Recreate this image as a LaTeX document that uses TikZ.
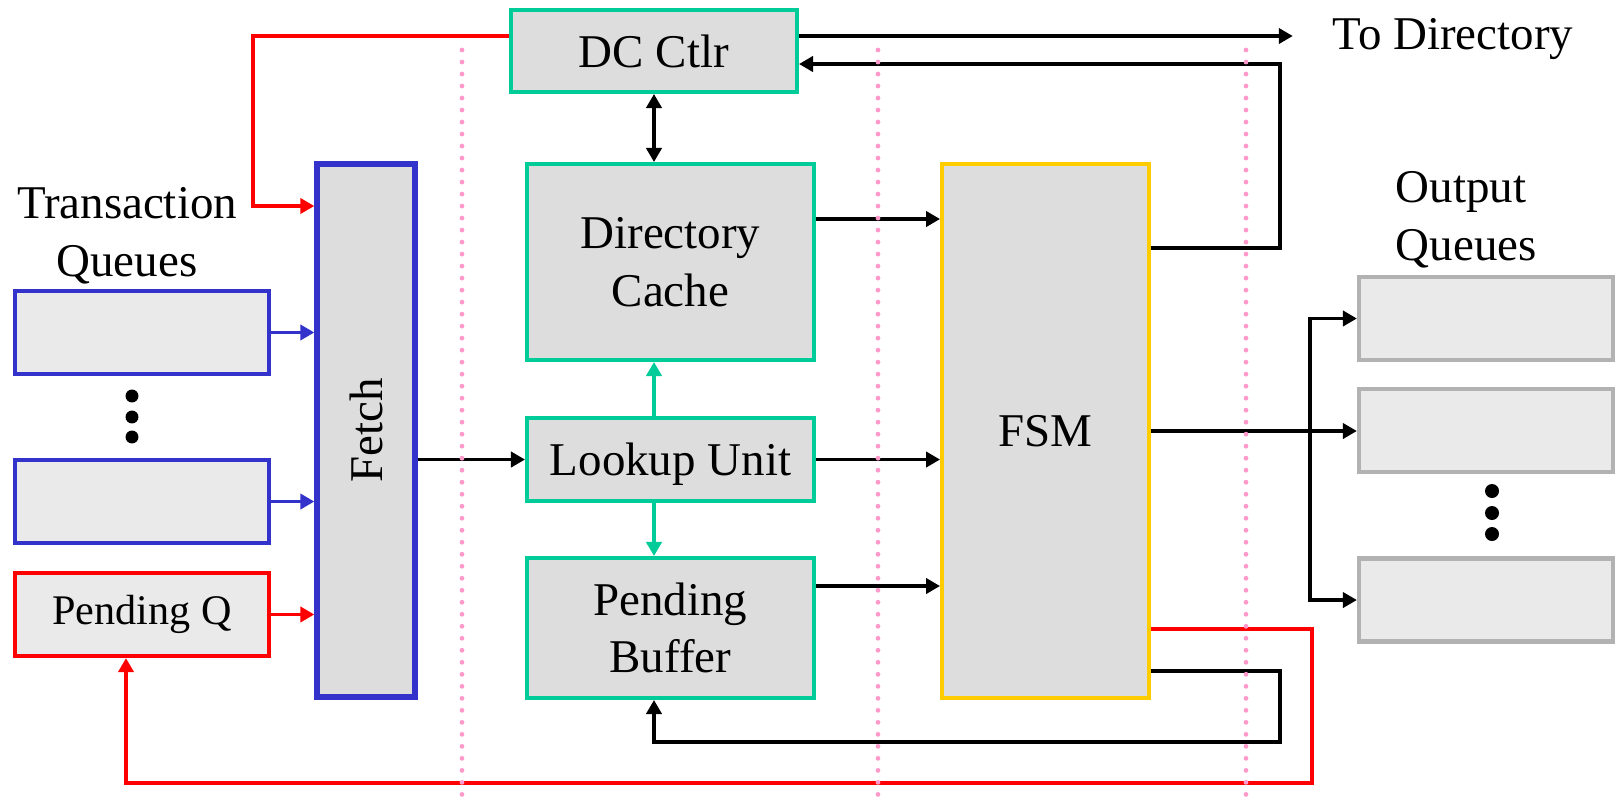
\documentclass[tikz,border=0pt]{standalone}
\usepackage{fontspec}
\setmainfont{Liberation Serif}
\usepackage{xcolor}
\usetikzlibrary{arrows.meta, positioning}
\definecolor{dcblue}{HTML}{3333CC}
\definecolor{dcteal}{HTML}{00CC99}
\definecolor{dcyellow}{HTML}{FFCC00}
\definecolor{dcred}{HTML}{FF0000}
\definecolor{dcgrey}{HTML}{B2B2B2}
\definecolor{boxfill}{HTML}{DDDDDD}
\definecolor{qfill}{HTML}{EAEAEA}
\definecolor{divpink}{HTML}{FF99CC}

\begin{document}
\begin{tikzpicture}[
    block/.style={rectangle, draw=dcteal, fill=boxfill, line width=1.4pt, align=center, minimum width=3.5875cm, inner sep=0pt, font=\fontsize{16.7}{20.45}\selectfont},
    queue/.style={rectangle, draw=dcblue, fill=qfill, line width=1.5pt, minimum width=3.175cm, minimum height=1.0375cm, inner sep=0pt},
    label/.style={inner sep=0pt, align=center, font=\fontsize{16.7}{20.45}\selectfont},
    arrow/.style={-{Triangle[length=5pt, width=5.4pt]}, line width=1.3pt, color=black},
    redarrow/.style={arrow, color=dcred},
    bluearrow/.style={arrow, color=dcblue},
    tealarrow/.style={arrow, color=dcteal},
    divider/.style={divpink, line width=1.7pt, line cap=round, dash pattern=on 0pt off 4.27pt}
]
\useasboundingbox (0,0) rectangle (20.2,-9.975);

\node[block, minimum height=1.025cm, minimum width=3.575cm] (dcctlr) at (8.175,-0.6375) {DC Ctlr};
\node[block, minimum height=2.45cm] (dircache) at (8.381,-3.275) {Directory\\Cache};
\node[block, minimum height=1.0375cm, text depth=0pt] (lookup) at (8.381,-5.744) {Lookup Unit};
\node[block, minimum height=1.75cm] (pendbuf) at (8.381,-7.85) {Pending\\Buffer};
\node[block, draw=dcyellow, minimum width=2.5875cm, minimum height=6.675cm] (fsm) at (13.069,-5.3875) {FSM};
\node[block, draw=dcblue, line width=1.9pt, minimum width=1.225cm, minimum height=6.6625cm] (fetch) at (4.575,-5.381) {\rotatebox{90}{Fetch}};

\node[queue] (txq1) at (1.775,-4.156) {};
\node[queue] (txq2) at (1.775,-6.269) {};
\node[queue, draw=dcred, font=\fontsize{15}{18}\selectfont] (pendq) at (1.775,-7.681) {Pending Q};

\node[queue, draw=dcgrey] (outq1) at (18.575,-3.981) {};
\node[queue, draw=dcgrey] (outq2) at (18.575,-5.381) {};
\node[queue, draw=dcgrey] (outq3) at (18.575,-7.5) {};

\node[label] (txlabel) at (1.5875,-2.944) {Transaction\\Queues};
\node[label, anchor=west, align=left] (outlabel) at (17.44,-2.744) {Output\\Queues};
\node[label, anchor=west] (todir) at (16.65,-0.4875) {To Directory};

\fill (1.65,-4.95) circle (0.081);
\fill (1.65,-5.2125) circle (0.081);
\fill (1.65,-5.4625) circle (0.081);
\fill (18.65,-6.1375) circle (0.0875);
\fill (18.65,-6.4125) circle (0.0875);
\fill (18.65,-6.675) circle (0.0875);

\coordinate (fork) at (16.375,-5.3875);

\draw[redarrow] ([yshift=0.1875cm]dcctlr.west) -- ++(-3.2,0) |- ([yshift=2.806cm]fetch.west);
\draw[bluearrow] (txq1.east) -- (txq1.east -| fetch.west);
\draw[bluearrow] (txq2.east) -- (txq2.east -| fetch.west);
\draw[redarrow] (pendq.east) -- (pendq.east -| fetch.west);
\draw[arrow] (fetch.east |- lookup.west) -- (lookup.west);

\draw[arrow, shorten >=0.49cm] ([yshift=0.1875cm]dcctlr.east) -- ([yshift=0.1875cm]dcctlr.east -| todir.west);
\draw[arrow] ([yshift=2.2875cm]fsm.east) -- ++(1.6125,0) |- ([yshift=-0.1625cm]dcctlr.east);
\draw[{Triangle[length=5pt, width=5.4pt]}-{Triangle[length=5pt, width=5.4pt]}, line width=1.3pt] (dcctlr.south) -- (dcctlr.south |- dircache.north);
\draw[tealarrow] ([xshift=-0.206cm]lookup.north) -- ([xshift=-0.206cm]dircache.south);
\draw[tealarrow] ([xshift=-0.206cm]lookup.south) -- ([xshift=-0.206cm]pendbuf.north);

\draw[arrow] ([yshift=0.5375cm]dircache.east) -- ([yshift=0.5375cm]dircache.east -| fsm.west);
\draw[arrow] (lookup.east) -- (lookup.east -| fsm.west);
\draw[arrow] ([yshift=0.525cm]pendbuf.east) -- ([yshift=0.525cm]pendbuf.east -| fsm.west);

\draw[arrow] (fsm.east) -- (fsm.east -| outq2.west);
\draw[arrow] (fork) |- (outq1.west);
\draw[arrow] (fork) |- (outq3.west);

\draw[arrow] ([yshift=-3cm]fsm.east) -- ++(1.6125,0) -- ++(0,-0.8875) -| ([xshift=-0.206cm]pendbuf.south);
\draw[redarrow] ([yshift=-2.475cm]fsm.east) -- ++(2.0125,0) -- ++(0,-1.925) -| ([xshift=-0.2cm]pendq.south);

% pipeline stage dividers
\draw[divider] (5.775,-0.625) -- (5.775,-9.9375);
\draw[divider] (10.975,-0.625) -- (10.975,-9.9375);
\draw[divider] (15.575,-0.625) -- (15.575,-9.9375);
\end{tikzpicture}
\end{document}
